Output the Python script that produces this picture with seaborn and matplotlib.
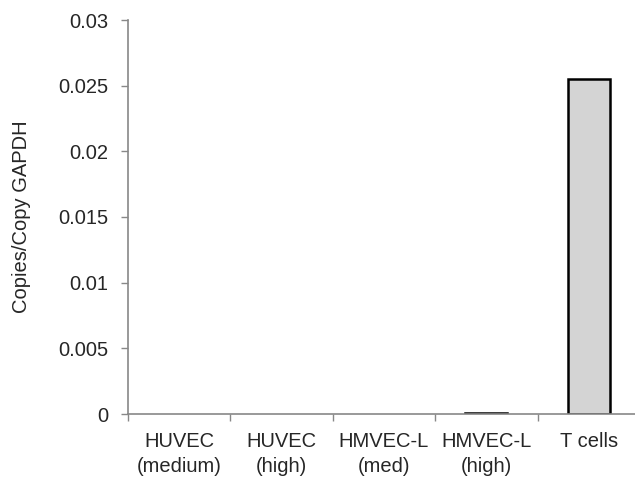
import numpy as np
import pandas as pd
import matplotlib
matplotlib.use("Agg")
import matplotlib.pyplot as plt
import seaborn as sns

# Data
categories = ["HUVEC\n(medium)", "HUVEC\n(high)", "HMVEC-L\n(med)", "HMVEC-L\n(high)", "T cells"]
values = [0.0, 0.0, 0.0, 0.0001, 0.0255]
y_ticks = [0, 0.005, 0.01, 0.015, 0.02, 0.025, 0.03]
y_tick_labels = ["0", "0.005", "0.01", "0.015", "0.02", "0.025", "0.03"]

df = pd.DataFrame({"cell": categories, "copies": values})

sns.set_style("white")
plt.rcParams["font.family"] = ["Liberation Sans", "DejaVu Sans"]

fig = plt.figure(figsize=(6.35, 4.82), dpi=100)
ax = fig.add_axes([128 / 635, 1 - 414 / 482, 512 / 635, 394 / 482])

sns.barplot(
    data=df,
    x="cell",
    y="copies",
    color="#d4d4d4",
    edgecolor="black",
    linewidth=1.8,
    width=0.41,
    ax=ax,
)

# empty bars should not leave an outline on the axis
for p in ax.patches:
    if p.get_height() == 0:
        p.set_edgecolor("none")

ax.set_xlim(-0.5, 4.5)
ax.set_ylim(0, 0.03)
ax.set_yticks(y_ticks)
ax.set_yticklabels(y_tick_labels, fontsize=14.5)
ax.set_xticks(range(len(categories)))
ax.set_xticklabels(categories, fontsize=14.5, linespacing=1.4)
ax.set_xticks(np.arange(-0.5, 4.6, 1), minor=True)

ax.tick_params(axis="x", which="major", length=0, pad=13)
ax.tick_params(axis="x", which="minor", length=5, width=1, color="#888888", direction="out", bottom=True)
ax.tick_params(axis="y", length=5, width=1, color="#888888", direction="out", left=True, pad=9)

ax.set_xlabel("")
ax.set_ylabel("Copies/Copy GAPDH", fontsize=14.5, labelpad=20)

for side in ["top", "right"]:
    ax.spines[side].set_visible(False)
for side in ["left", "bottom"]:
    ax.spines[side].set_color("#888888")
    ax.spines[side].set_linewidth(1.2)

fig.savefig("out.png", dpi=100)
